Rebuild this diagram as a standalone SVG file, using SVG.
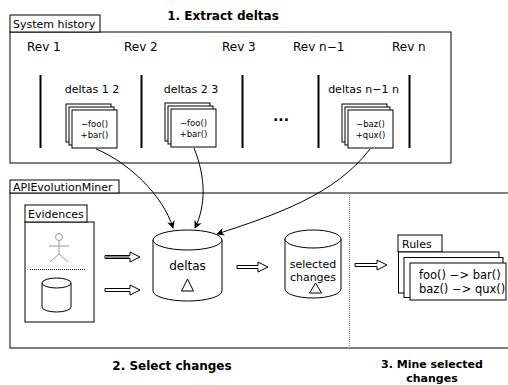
<svg xmlns="http://www.w3.org/2000/svg" width="508" height="385" viewBox="0 0 508 385">
<style>
text{font-family:"DejaVu Sans","Liberation Sans",sans-serif;fill:#000}
.box{fill:#fff;stroke:#000;stroke-width:1}
.tab{font-size:11px}
.rev{font-size:12px}
.dl{font-size:11px;text-anchor:middle}
.card{font-size:8.5px;text-anchor:middle}
.title{font-size:12px;font-weight:bold;text-anchor:middle}
.bar{stroke:#000;stroke-width:2}
.conn{fill:none;stroke:#000;stroke-width:1}
.harrow{fill:#fff;stroke:#000;stroke-width:1}
</style>
<defs>
<marker id="ah" viewBox="0 0 10 10" refX="9" refY="5" markerWidth="8" markerHeight="8" orient="auto" markerUnits="userSpaceOnUse">
<path d="M0,0 L10,5 L0,10 L3,5 Z" fill="#000"/>
</marker>
<g id="stack">
<rect class="box" x="0" y="0" width="45" height="38"/>
<rect class="box" x="3" y="3" width="45" height="38"/>
<rect class="box" x="6" y="6" width="45" height="38"/>
</g>
</defs>
<rect width="508" height="385" fill="#fff"/>

<text class="title" x="223" y="20">1. Extract deltas</text>
<text class="title" x="172" y="370">2. Select changes</text>
<text class="title" x="432" y="368" style="font-size:11px">3. Mine selected</text>
<text class="title" x="432" y="382" style="font-size:11px">changes</text>

<g id="system-history">
<rect class="box" x="10" y="32" width="441" height="131"/>
<rect class="box" x="10" y="15" width="90" height="17"/>
<text class="tab" x="13" y="28">System history</text>
<text class="rev" x="27" y="51">Rev 1</text>
<text class="rev" x="124" y="51">Rev 2</text>
<text class="rev" x="222" y="51">Rev 3</text>
<text class="rev" x="293" y="51">Rev n−1</text>
<text class="rev" x="392" y="51">Rev n</text>
<line class="bar" x1="40.5" y1="75" x2="40.5" y2="148"/>
<line class="bar" x1="141.5" y1="75" x2="141.5" y2="148"/>
<line class="bar" x1="242.5" y1="75" x2="242.5" y2="148"/>
<line class="bar" x1="318.5" y1="75" x2="318.5" y2="148"/>
<line class="bar" x1="409.5" y1="75" x2="409.5" y2="148"/>
<text x="281" y="121" style="font-size:14px;font-weight:bold;text-anchor:middle">...</text>
</g>

<g id="deltas-1-2">
<text class="dl" x="92" y="93">deltas 1 2</text>
<use href="#stack" x="66" y="104"/>
<text class="card" x="94.5" y="127">−foo()</text>
<text class="card" x="94.5" y="138">+bar()</text>
</g>
<g id="deltas-2-3">
<text class="dl" x="191" y="93">deltas 2 3</text>
<use href="#stack" x="165" y="103"/>
<text class="card" x="193.5" y="126">−foo()</text>
<text class="card" x="193.5" y="137">+bar()</text>
</g>
<g id="deltas-n-1-n">
<text class="dl" x="363.5" y="93">deltas n−1 n</text>
<use href="#stack" x="342" y="104"/>
<text class="card" x="370.5" y="127">−baz()</text>
<text class="card" x="370.5" y="138">+qux()</text>
</g>

<g id="api-evolution-miner">
<rect class="box" x="10" y="193" width="510" height="155"/>
<rect class="box" x="10" y="180" width="109" height="13"/>
<text class="tab" x="13" y="191">APIEvolutionMiner</text>
<line x1="349.5" y1="193" x2="349.5" y2="348" stroke="#888" stroke-width="1" stroke-dasharray="1,1"/>
</g>

<g id="evidences">
<rect class="box" x="25" y="222" width="69" height="100"/>
<rect class="box" x="25" y="205" width="62" height="17"/>
<text class="tab" x="28" y="218">Evidences</text>
<g stroke="#999" fill="none" stroke-width="1">
<circle cx="59" cy="237" r="3.5" fill="#fff"/>
<line x1="59" y1="240.5" x2="59" y2="254"/>
<line x1="49" y1="246" x2="69" y2="246"/>
<line x1="59" y1="254" x2="50" y2="262"/>
<line x1="59" y1="254" x2="68" y2="262"/>
</g>
<line x1="30" y1="269.5" x2="86" y2="269.5" stroke="#000" stroke-dasharray="1,1"/>
<path class="box" d="M42,283 V307 A14.5,5 0 0 0 71,307 V283"/>
<ellipse class="box" cx="56.5" cy="283" rx="14.5" ry="5"/>
</g>

<g id="deltas">
<path class="box" d="M153,240 V291 A34.5,10 0 0 0 222,291 V240"/>
<ellipse class="box" cx="187.5" cy="240" rx="34.5" ry="10"/>
<text x="187.5" y="270" style="font-size:12px;text-anchor:middle">deltas</text>
<polygon points="187.5,279 181.5,291 193.5,291" fill="none" stroke="#000"/>
</g>

<g id="selected-changes">
<path class="box" d="M285,239 V289 A28,9 0 0 0 341,289 V239"/>
<ellipse class="box" cx="313" cy="239" rx="28" ry="9"/>
<text x="313" y="268" style="font-size:11px;text-anchor:middle">selected</text>
<text x="313" y="281" style="font-size:11px;text-anchor:middle">changes</text>
<polygon points="315.5,283 309.5,293 321.5,293" fill="none" stroke="#000"/>
</g>

<g id="rules">
<rect class="box" x="398" y="235" width="44" height="17"/>
<text class="tab" x="402" y="248">Rules</text>
<rect class="box" x="398.5" y="252" width="100.5" height="41"/>
<rect class="box" x="404" y="257.5" width="99" height="40"/>
<rect class="box" x="410" y="263" width="96" height="37"/>
<text x="419" y="279" style="font-size:11.5px">foo() −&gt; bar()</text>
<text x="419" y="293" style="font-size:11.5px">baz() −&gt; qux()</text>
</g>

<g id="connectors">
<path class="conn" d="M96,149 C128,162 163,195 173,228" marker-end="url(#ah)"/>
<path class="conn" d="M194,148 C206,178 206,205 195,228" marker-end="url(#ah)"/>
<path class="conn" d="M370,149 C335,195 275,215 217,234" marker-end="url(#ah)"/>
<path d="M105,255.5 H130 V252 L140,257 L130,262 V258.5 H105 Z" fill="#fff" stroke="#000"/>
<rect x="105.5" y="256" width="24" height="2" fill="#888"/>
<path class="harrow" d="M105,288.5 H130 V285 L140,290 L130,295 V291.5 H105 Z"/>
<path class="harrow" d="M237,265.5 H258 V262 L268,267 L258,272 V268.5 H237 Z"/>
<path class="harrow" d="M355,263.5 H377 V260 L387,265 L377,270 V266.5 H355 Z"/>
</g>
</svg>
